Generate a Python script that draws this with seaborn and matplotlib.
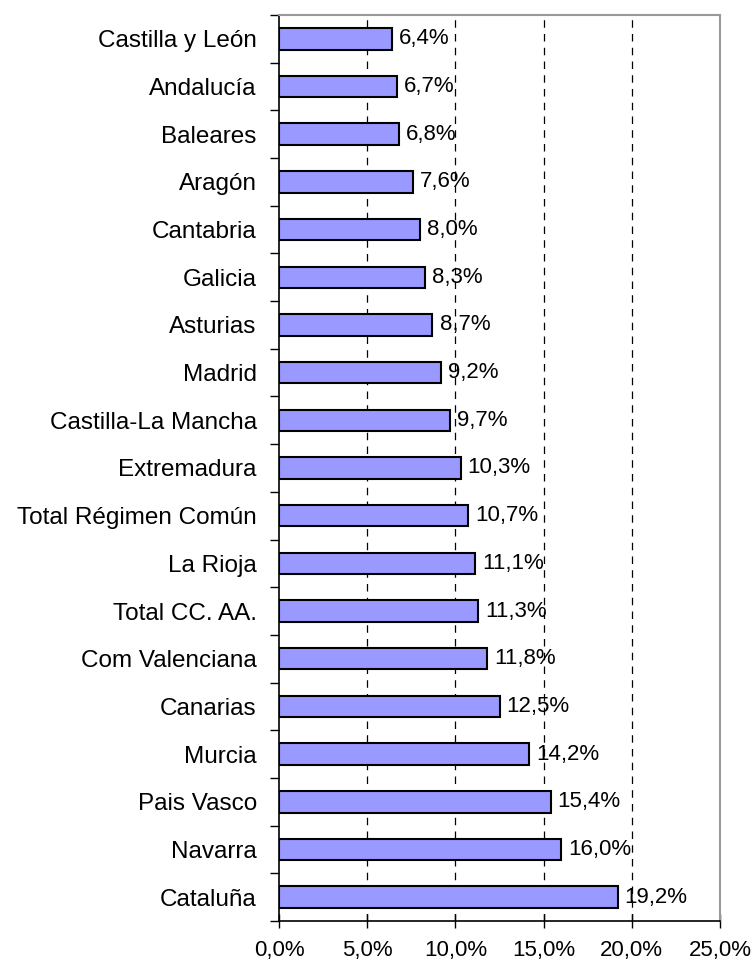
import numpy as np
import pandas as pd
import seaborn as sns
import matplotlib.pyplot as plt
from matplotlib.ticker import FixedLocator, FuncFormatter

# --- Data ---
regions = [
    "Castilla y León", "Andalucía", "Baleares", "Aragón", "Cantabria",
    "Galicia", "Asturias", "Madrid", "Castilla-La Mancha", "Extremadura",
    "Total Régimen Común", "La Rioja", "Total CC. AA.", "Com Valenciana",
    "Canarias", "Murcia", "Pais Vasco", "Navarra", "Cataluña",
]
values = [6.4, 6.7, 6.8, 7.6, 8.0, 8.3, 8.7, 9.2, 9.7, 10.3,
          10.7, 11.1, 11.3, 11.8, 12.5, 14.2, 15.4, 16.0, 19.2]
x_ticks = [0, 5, 10, 15, 20, 25]

df = pd.DataFrame({"region": regions, "value": values})

sns.set_theme(style="white")
plt.rcParams["font.family"] = ["Liberation Sans", "DejaVu Sans"]
plt.rcParams["text.color"] = "black"
plt.rcParams["xtick.color"] = "black"
plt.rcParams["ytick.color"] = "black"

FS = 17.5      # category labels
FS_NUM = 16    # value labels and x tick labels

fig = plt.figure(figsize=(7.53, 9.6), dpi=100)
ax = fig.add_axes([279 / 753, 1 - 921 / 960, (720 - 279) / 753, (921 - 15) / 960])

sns.barplot(data=df, x="value", y="region", orient="h", color="#9999FF",
            saturation=1, width=0.45, edgecolor="black", linewidth=1.5, ax=ax)

# value labels with comma decimal
for i, v in enumerate(values):
    ax.text(v + 0.4, i, f"{v:.1f}%".replace(".", ","), va="center", ha="left",
            fontsize=FS_NUM, color="black")

ax.set_xlim(0, 25)
ax.set_ylim(len(regions) - 0.5, -0.5)
ax.xaxis.set_major_locator(FixedLocator(x_ticks))
ax.xaxis.set_major_formatter(FuncFormatter(lambda v, p: f"{v:.1f}%".replace(".", ",")))
for t in x_ticks[1:-1]:
    ax.axvline(t, color="black", linestyle=(0, (6, 5)), linewidth=0.9, zorder=0)

ax.set_xlabel("")
ax.set_ylabel("")

# tick marks between categories
ax.yaxis.set_minor_locator(FixedLocator(np.arange(-0.5, len(regions), 1)))
ax.tick_params(axis="y", which="major", length=0, labelsize=FS, pad=16)
ax.tick_params(axis="y", which="minor", left=True, length=6.5, width=1, color="black")
ax.tick_params(axis="x", which="major", bottom=True, direction="inout", length=10,
               width=1, color="black", labelsize=FS_NUM, pad=9)

for s in ["left", "bottom"]:
    ax.spines[s].set_color("black")
    ax.spines[s].set_linewidth(1.2)
for s in ["top", "right"]:
    ax.spines[s].set_color("#999999")
    ax.spines[s].set_linewidth(1.5)

fig.savefig("out.png", dpi=100)
